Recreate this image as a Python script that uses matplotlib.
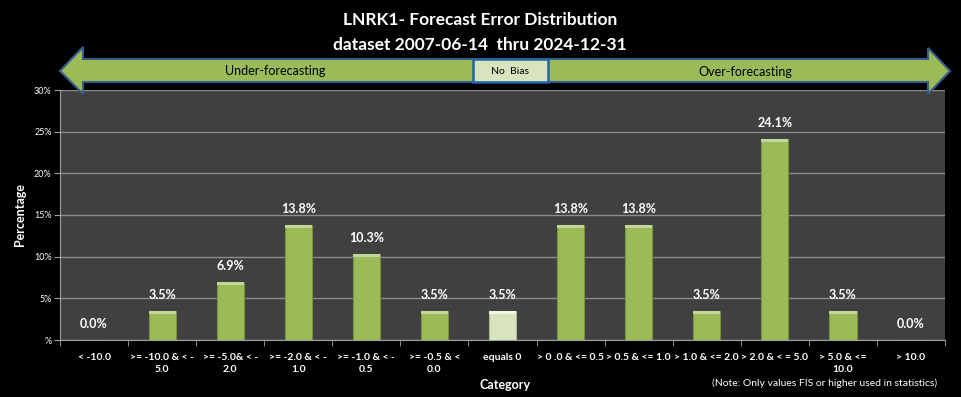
import numpy as np
import matplotlib.pyplot as plt
from matplotlib.patches import Polygon, Rectangle

# Chart data
categories = ['< -10.0', '>= -10.0 & < -\n5.0', '>= -5.0& < -\n2.0', '>= -2.0 & < -\n1.0',
              '>= -1.0 & < -\n0.5', '>= -0.5 & <\n0.0', 'equals 0', '> 0 .0 & <= 0.5',
              '> 0.5 & <= 1.0', '> 1.0 & <= 2.0', '> 2.0 & < = 5.0', '> 5.0 & <=\n10.0', '> 10.0']
values = [0.0, 3.5, 6.9, 13.8, 10.3, 3.5, 3.5, 13.8, 13.8, 3.5, 24.1, 3.5, 0.0]
yticks = [0, 5, 10, 15, 20, 25, 30]
ytick_labels = ['%', '5%', '10%', '15%', '20%', '25%', '30%']
zero_index = 6

plt.rcParams['font.family'] = ['Lato', 'DejaVu Sans']

W, H = 961, 397
fig = plt.figure(figsize=(W / 100, H / 100), dpi=100, facecolor='black')

ax = fig.add_axes([60 / W, 1 - 340 / H, 885 / W, 250 / H])
ax.set_facecolor('#404040')

x = np.arange(len(values))
colors = ['#9bbb59'] * len(values)
edges = ['#76923c'] * len(values)
colors[zero_index] = '#d7e4bd'
edges[zero_index] = '#a8b890'
ax.bar(x, values, width=0.4, color=colors, edgecolor=edges, linewidth=0.8, zorder=3)
# light bevel strip at the top of each bar
tops = ['#c3d69b'] * len(values)
tops[zero_index] = '#f2f7e8'
for i, v in enumerate(values):
    if v > 0:
        ax.bar(i, 0.35, bottom=v - 0.35, width=0.4, color=tops[i], linewidth=0, zorder=4)
    ax.text(i, v + 1.2, f'{v:.1f}%', ha='center', va='bottom', color='white',
            fontsize=9, fontweight='bold', zorder=5)

ax.set_xlim(-0.5, len(values) - 0.5)
ax.set_ylim(0, 30)
ax.set_yticks(yticks)
ax.set_yticklabels(ytick_labels, color='white', fontsize=6.5)
ax.yaxis.grid(True, color='#8c8c8c', linewidth=1, zorder=0)
ax.set_axisbelow(True)

ax.set_xticks(x)
ax.set_xticklabels(categories, color='white', fontsize=7.5, fontweight='bold', linespacing=1.45)
ax.tick_params(axis='x', length=0, pad=9)
ax.set_xticks(np.arange(-0.5, len(values), 1), minor=True)
ax.tick_params(axis='x', which='minor', length=4, color='#a0a0a0')
ax.tick_params(axis='y', length=4, color='#a0a0a0', pad=2)

for s in ['top', 'right']:
    ax.spines[s].set_visible(False)
ax.spines['left'].set_color('#a0a0a0')
ax.spines['bottom'].set_color('#a0a0a0')

ax.set_ylabel('Percentage', color='white', fontsize=9, fontweight='bold', labelpad=6)

# overlay in pixel coordinates for the arrow and annotations
ov = fig.add_axes([0, 0, 1, 1], facecolor='none')
ov.set_xlim(0, W)
ov.set_ylim(H, 0)
ov.axis('off')

arrow = Polygon([(60, 71), (83, 47), (83, 59), (928, 59), (928, 48), (950, 71),
                 (928, 94), (928, 82), (83, 82), (83, 94)],
                closed=True, facecolor='#9bbb59', edgecolor='#385d8a', linewidth=1.5)
ov.add_patch(arrow)
ov.add_patch(Rectangle((473, 59), 75, 23, facecolor='#d7e4bd', edgecolor='#1f64a8', linewidth=1.8))
ov.text(510, 71, 'No  Bias', ha='center', va='center', fontsize=7.5, color='black')
ov.text(275, 71, 'Under-forecasting', ha='center', va='center', fontsize=9, color='black')
ov.text(745, 71.5, 'Over-forecasting', ha='center', va='center', fontsize=9, color='black')

ov.text(480, 20, 'LNRK1- Forecast Error Distribution', ha='center', va='center',
        fontsize=12.5, fontweight='bold', color='white')
ov.text(480, 45, 'dataset 2007-06-14  thru 2024-12-31', ha='center', va='center',
        fontsize=12.5, fontweight='bold', color='white')

ov.text(505, 385, 'Category', ha='center', va='center', fontsize=9, fontweight='bold', color='white')
ov.text(825, 383, '(Note: Only values FIS or higher used in statistics)', ha='center', va='center',
        fontsize=7.5, color='white')

fig.savefig('out.png', dpi=100, facecolor='black')
